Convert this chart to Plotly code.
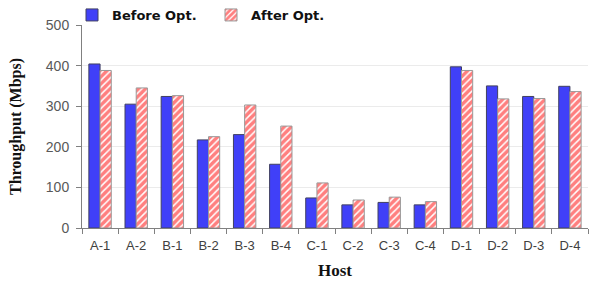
import plotly.graph_objects as go

hosts = ["A-1", "A-2", "B-1", "B-2", "B-3", "B-4", "C-1", "C-2", "C-3", "C-4", "D-1", "D-2", "D-3", "D-4"]
before_opt = [404, 305, 324, 217, 230, 157, 74, 57, 63, 57, 397, 350, 324, 349]
after_opt = [388, 345, 326, 225, 303, 251, 111, 69, 76, 65, 388, 318, 319, 336]
y_ticks = [0, 100, 200, 300, 400, 500]

fig = go.Figure()
fig.add_trace(go.Bar(
    x=hosts, y=before_opt, name="Before Opt.",
    marker=dict(color="#4040F8", line=dict(color="#404060", width=1)),
))
fig.add_trace(go.Bar(
    x=hosts, y=after_opt, name="After Opt.",
    marker=dict(color="white", line=dict(color="#999999", width=1),
                pattern=dict(shape="/", fgcolor="#FF0000", bgcolor="white", size=5, solidity=0.7)),
))

fig.update_layout(
    width=590, height=282,
    margin=dict(l=82, r=2, t=25, b=54, autoexpand=False),
    paper_bgcolor="white", plot_bgcolor="white",
    barmode="group", bargap=0.38, bargroupgap=0,
    font=dict(family="Liberation Sans, Arial", color="#595959"),
    legend=dict(orientation="h", x=72 / 590, y=1 - 15 / 282, xref="container", yref="container",
                xanchor="left", yanchor="middle",
                font=dict(family="DejaVu Sans", size=13, color="#111111", weight="bold"),
                itemwidth=30, entrywidth=94, tracegroupgap=0,
                bgcolor="rgba(0,0,0,0)"),
    xaxis=dict(
        title=dict(text="Host", font=dict(family="Liberation Serif", size=17, color="#111111", weight="bold"), standoff=12),
        showline=True, linecolor="#808080", linewidth=1,
        ticks="outside", ticklen=5, tickcolor="#808080", tickson="boundaries",
        tickfont=dict(family="Liberation Sans", size=13, color="#404040"),
        ticklabelstandoff=5,
        showgrid=False, automargin=False,
    ),
    yaxis=dict(
        title=dict(text="Throughput (Mbps)", font=dict(family="Liberation Serif", size=16, color="#111111", weight="bold"), standoff=20),
        range=[0, 500], tickvals=y_ticks,
        showline=True, linecolor="#808080", linewidth=1,
        ticks="outside", ticklen=5, tickcolor="#808080",
        tickfont=dict(family="Liberation Sans", size=14, color="#595959"),
        ticklabelstandoff=4,
        showgrid=True, gridcolor="#EBEBEB", gridwidth=1,
        zeroline=False, automargin=False,
    ),
)

fig.write_html("out.html", config={"displayModeBar": False},
               post_script="document.body.style.margin='0';document.body.style.overflow='hidden';")
